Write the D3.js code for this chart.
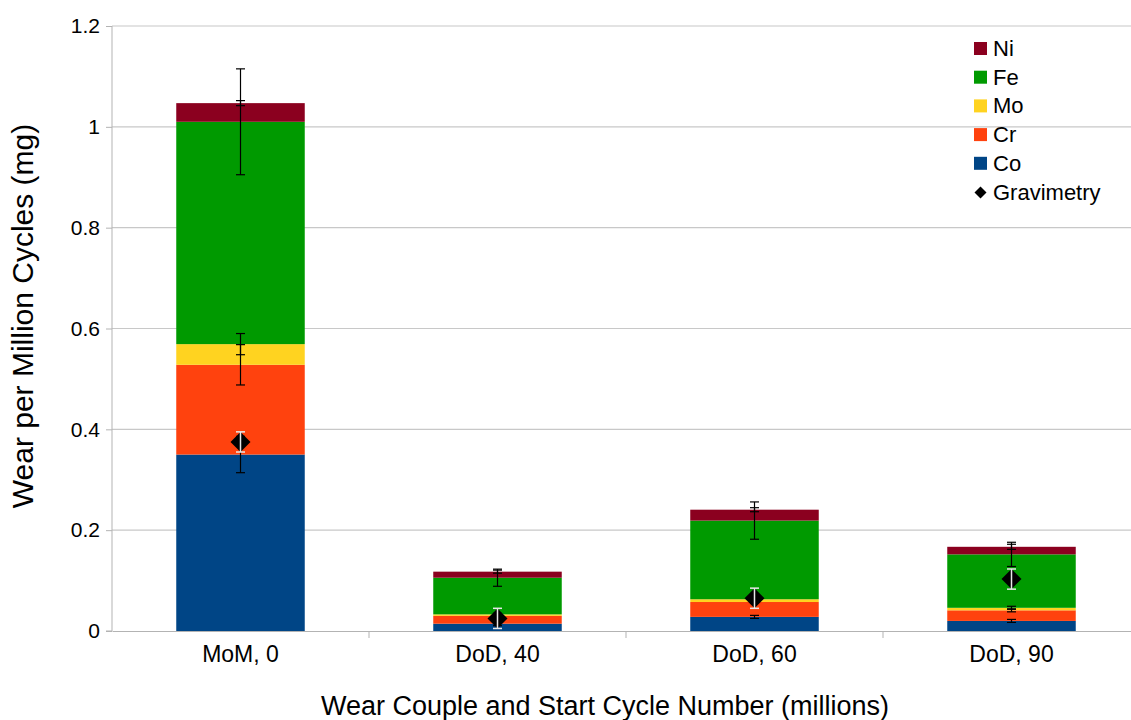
<!DOCTYPE html>
<html>
<head>
<meta charset="utf-8">
<script src="https://cdn.jsdelivr.net/npm/d3@7"></script>
<style>
  html, body { margin: 0; padding: 0; background: #fff; }
  svg { display: block; font-family: "Liberation Sans", Arial, sans-serif; }
</style>
</head>
<body>
<svg id="chart" width="1131" height="720"></svg>
<script>
// Wear per million cycles by element, stacked, with gravimetric totals
const categories = ["MoM, 0", "DoD, 40", "DoD, 60", "DoD, 90"];

const elements = ["Co", "Cr", "Mo", "Fe", "Ni"];
const coValues = [0.350, 0.0145, 0.028, 0.020];
const crValues = [0.178, 0.0155, 0.0295, 0.021];
const moValues = [0.041, 0.003, 0.0055, 0.005];
const feValues = [0.441, 0.0727, 0.156, 0.106];
const niValues = [0.037, 0.012, 0.0216, 0.015];

const coErrors = [0.036, 0.004, 0.003, 0.003];
const crErrors = [0.040, 0.002, 0.002, 0.003];
const moErrors = [0.021, 0.002, 0.002, 0.003];
const feErrors = [0.105, 0.017, 0.037, 0.024];
const niErrors = [0.005, 0.003, 0.004, 0.005];

const gravimetry = [0.375, 0.025, 0.065, 0.103];
const gravimetryErrors = [0.02, 0.02, 0.02, 0.02];

const yTicks = [0, 0.2, 0.4, 0.6, 0.8, 1, 1.2];

const colors = { Co: "#004586", Cr: "#ff420e", Mo: "#ffd320", Fe: "#009a00", Ni: "#8b001f" };
const legendOrder = ["Ni", "Fe", "Mo", "Cr", "Co"];

const valuesBy = { Co: coValues, Cr: crValues, Mo: moValues, Fe: feValues, Ni: niValues };
const errorsBy = { Co: coErrors, Cr: crErrors, Mo: moErrors, Fe: feErrors, Ni: niErrors };

const rows = categories.map((c, i) => {
  const r = { category: c };
  elements.forEach(e => { r[e] = valuesBy[e][i]; });
  return r;
});

const svg = d3.select("#chart");
const margin = { left: 112, top: 26, bottom: 89 };
const plotRight = 1140;
const height = 720;

const x = d3.scaleBand().domain(categories)
  .range([margin.left, plotRight]).paddingInner(0.5).paddingOuter(0.25);
const y = d3.scaleLinear().domain([0, 1.2]).range([height - margin.bottom, margin.top]);

// horizontal gridlines
svg.append("g").selectAll("line").data(yTicks.slice(1)).join("line")
  .attr("x1", margin.left).attr("x2", plotRight)
  .attr("y1", d => y(d)).attr("y2", d => y(d))
  .attr("stroke", "#c8c8c8").attr("stroke-width", 1.2);

// y axis
const yAxis = d3.axisLeft(y).tickValues(yTicks).tickSize(6).tickPadding(6)
  .tickFormat(d => d3.format("")(+d.toFixed(1)));
const gy = svg.append("g").attr("transform", `translate(${margin.left},0)`).call(yAxis);
gy.select(".domain").attr("stroke", "#b3b3b3").attr("d", `M-6,${y(0)}H0V${y(1.2)}`);
gy.selectAll(".tick line").attr("stroke", "#b3b3b3");
gy.selectAll(".tick text").attr("font-size", 21).attr("fill", "#000");

// x axis
const xAxis = d3.axisBottom(x).tickSize(0).tickPadding(15);
const gx = svg.append("g").attr("transform", `translate(0,${y(0)})`).call(xAxis);
gx.select(".domain").attr("stroke", "#b3b3b3");
gx.selectAll(".tick text").attr("font-size", 23).attr("fill", "#000");
// category separators
const step = x.step();
svg.append("g").selectAll("line").data(categories.slice(1)).join("line")
  .attr("x1", d => x(d) - x.paddingInner() * step / 2)
  .attr("x2", d => x(d) - x.paddingInner() * step / 2)
  .attr("y1", y(0)).attr("y2", y(0) + 7)
  .attr("stroke", "#b3b3b3");

// stacked bars
const stack = d3.stack().keys(elements)(rows);
const layers = svg.append("g").selectAll("g").data(stack).join("g")
  .attr("fill", d => colors[d.key]);
layers.selectAll("rect").data(d => d).join("rect")
  .attr("x", d => x(d.data.category))
  .attr("width", x.bandwidth())
  .attr("y", d => y(d[1]))
  .attr("height", d => y(d[0]) - y(d[1]));

// error bars at each segment top
const capHalf = 4.5;
const errG = svg.append("g").attr("stroke", "#000").attr("stroke-width", 1.2);
stack.forEach(layer => {
  layer.forEach((d, i) => {
    const cx = x(d.data.category) + x.bandwidth() / 2;
    const e = errorsBy[layer.key][i];
    const top = y(d[1] + e), bot = y(d[1] - e);
    errG.append("line").attr("x1", cx).attr("x2", cx).attr("y1", top).attr("y2", bot);
    errG.append("line").attr("x1", cx - capHalf).attr("x2", cx + capHalf).attr("y1", top).attr("y2", top);
    errG.append("line").attr("x1", cx - capHalf).attr("x2", cx + capHalf).attr("y1", bot).attr("y2", bot);
  });
});

// gravimetry markers
const diamond = d3.symbol().type(d3.symbolSquare).size(200);
const gravG = svg.append("g");
gravG.selectAll("path").data(categories).join("path")
  .attr("d", diamond)
  .attr("transform", (d, i) => `translate(${x(d) + x.bandwidth() / 2},${y(gravimetry[i])}) rotate(45)`)
  .attr("fill", "#000");
const gErr = svg.append("g").attr("stroke", "#e8e8e8").attr("stroke-width", 1.5);
categories.forEach((c, i) => {
  const cx = x(c) + x.bandwidth() / 2;
  const top = y(gravimetry[i] + gravimetryErrors[i]);
  const bot = y(gravimetry[i] - gravimetryErrors[i]);
  gErr.append("line").attr("x1", cx).attr("x2", cx).attr("y1", top).attr("y2", bot);
  gErr.append("line").attr("x1", cx - capHalf).attr("x2", cx + capHalf).attr("y1", top).attr("y2", top);
  gErr.append("line").attr("x1", cx - capHalf).attr("x2", cx + capHalf).attr("y1", bot).attr("y2", bot);
});

// axis titles
svg.append("text").attr("x", 605).attr("y", 715)
  .attr("text-anchor", "middle").attr("font-size", 27).text("Wear Couple and Start Cycle Number (millions)");
svg.append("text").attr("transform", `translate(33,316) rotate(-90)`)
  .attr("text-anchor", "middle").attr("font-size", 30).text("Wear per Million Cycles (mg)");

// legend
const legend = svg.append("g").attr("transform", "translate(974,42)");
const rowH = 28.7;
legendOrder.forEach((k, i) => {
  const g = legend.append("g").attr("transform", `translate(0,${i * rowH})`);
  g.append("rect").attr("width", 13).attr("height", 13).attr("fill", colors[k]);
  g.append("text").attr("x", 19).attr("y", 14).attr("font-size", 22).text(k);
});
const gLeg = legend.append("g").attr("transform", `translate(0,${5 * rowH})`);
gLeg.append("path").attr("d", d3.symbol().type(d3.symbolSquare).size(72))
  .attr("transform", "translate(6.5,7) rotate(45)").attr("fill", "#000");
gLeg.append("text").attr("x", 19).attr("y", 14).attr("font-size", 22).text("Gravimetry");
</script>
</body>
</html>
